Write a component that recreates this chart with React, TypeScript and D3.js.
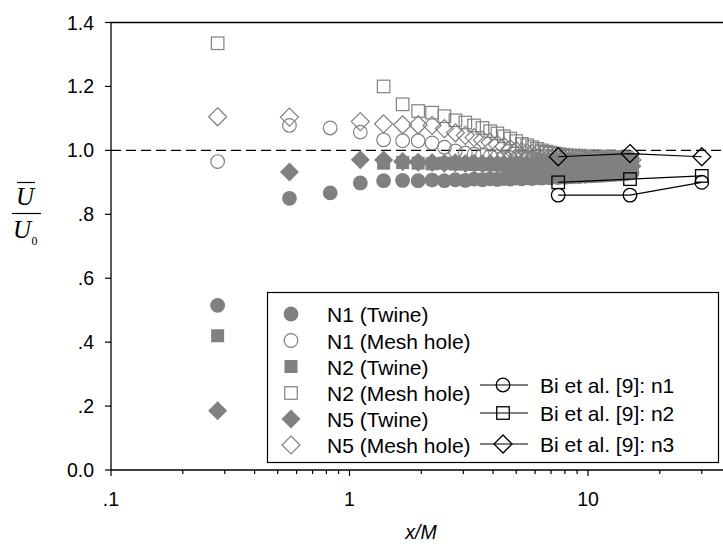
import React from "react";
import * as d3 from "d3";

// Measurement stations x/M
const stations = [
  0.28, 0.56, 0.83, 1.11, 1.39, 1.67, 1.94, 2.22, 2.5, 2.78, 3.06, 3.33, 3.61, 3.89, 4.17, 4.44, 4.72, 5.0,
  5.28, 5.56, 5.83, 6.11, 6.39, 6.67, 6.94, 7.22, 7.5, 7.78, 8.06, 8.33, 8.61, 8.89, 9.17, 9.44, 9.72, 10.0,
  10.28, 10.56, 10.83, 11.11, 11.39, 11.67, 11.94, 12.22, 12.5, 12.78, 13.06, 13.33, 13.61, 13.89, 14.17,
  14.44, 14.72, 15.0, 15.28,
];

const n1Twine = [
  0.515, 0.85, 0.867, 0.898, 0.905, 0.906, 0.905, 0.907, 0.905, 0.908, 0.906, 0.91, 0.908, 0.911, 0.909,
  0.912, 0.91, 0.913, 0.911, 0.914, 0.912, 0.915, 0.913, 0.916, 0.914, 0.917, 0.915, 0.918, 0.916, 0.919,
  0.917, 0.92, 0.918, 0.921, 0.919, 0.922, 0.92, 0.923, 0.921, 0.924, 0.922, 0.925, 0.923, 0.926, 0.924,
  0.927, 0.925, 0.928, 0.926, 0.929, 0.927, 0.93, 0.928, 0.931, 0.93,
];
const n1Mesh = [
  0.965, 1.078, 1.07, 1.057, 1.033, 1.03, 1.03, 1.023, 1.01, 0.998, 0.992, 0.988, 0.985, 0.982, 0.98, 0.978,
  0.977, 0.975, 0.975, 0.973, 0.972, 0.972, 0.97, 0.971, 0.969, 0.97, 0.968, 0.969, 0.967, 0.968, 0.967,
  0.966, 0.968, 0.966, 0.967, 0.965, 0.966, 0.965, 0.967, 0.965, 0.966, 0.964, 0.966, 0.965, 0.964, 0.966,
  0.965, 0.964, 0.965, 0.966, 0.964, 0.965, 0.966, 0.965, 0.964,
];
const n2Twine = [
  0.42, null, null, null, 0.96, 0.962, 0.96, 0.958, 0.96, 0.957, 0.958, 0.956, 0.957, 0.955, 0.956, 0.954,
  0.955, 0.953, 0.955, 0.953, 0.954, 0.952, 0.953, 0.951, 0.953, 0.952, 0.951, 0.953, 0.95, 0.952, 0.951,
  0.95, 0.952, 0.951, 0.95, 0.951, 0.949, 0.951, 0.95, 0.949, 0.951, 0.95, 0.949, 0.95, 0.951, 0.949, 0.95,
  0.949, 0.951, 0.95, 0.949, 0.95, 0.951, 0.95, 0.949,
];
const n2Mesh = [
  1.335, null, null, null, 1.2, 1.144, 1.123, 1.118, 1.107, 1.094, 1.087, 1.078, 1.07, 1.06, 1.053, 1.044,
  1.037, 1.029, 1.02, 1.016, 1.01, 1.005, 1.0, 0.996, 0.993, 0.99, 0.988, 0.986, 0.984, 0.982, 0.981, 0.98,
  0.979, 0.978, 0.977, 0.976, 0.976, 0.975, 0.975, 0.974, 0.974, 0.973, 0.973, 0.972, 0.972, 0.972, 0.971,
  0.971, 0.971, 0.97, 0.97, 0.97, 0.969, 0.969, 0.969,
];
const n5Twine = [
  0.185, 0.932, null, 0.971, 0.97, 0.965, 0.963, 0.962, 0.96, 0.961, 0.959, 0.96, 0.958, 0.959, 0.957, 0.958,
  0.956, 0.957, 0.956, 0.955, 0.956, 0.955, 0.954, 0.955, 0.954, 0.953, 0.954, 0.953, 0.952, 0.953, 0.952,
  0.953, 0.952, 0.951, 0.952, 0.951, 0.952, 0.951, 0.95, 0.951, 0.952, 0.951, 0.95, 0.951, 0.95, 0.951, 0.95,
  0.951, 0.95, 0.949, 0.95, 0.951, 0.95, 0.949, 0.95,
];
const n5Mesh = [
  1.105, 1.104, null, 1.09, 1.083, 1.08, 1.08, 1.078, 1.068, 1.055, 1.047, 1.04, 1.032, 1.025, 1.018, 1.012,
  1.005, 1.0, 0.996, 0.993, 0.99, 0.988, 0.986, 0.984, 0.983, 0.982, 0.981, 0.98, 0.979, 0.978, 0.978, 0.977,
  0.977, 0.976, 0.976, 0.975, 0.975, 0.975, 0.974, 0.974, 0.974, 0.973, 0.973, 0.973, 0.972, 0.972, 0.972,
  0.972, 0.971, 0.971, 0.971, 0.971, 0.97, 0.97, 0.97,
];

const biX = [7.5, 15, 30];
const biN1 = [0.86, 0.86, 0.9];
const biN2 = [0.9, 0.91, 0.92];
const biN3 = [0.98, 0.99, 0.98];

const seriesLabels = [
  "N1 (Twine)",
  "N1 (Mesh hole)",
  "N2 (Twine)",
  "N2 (Mesh hole)",
  "N5 (Twine)",
  "N5 (Mesh hole)",
];
const biLabels = ["Bi et al. [9]: n1", "Bi et al. [9]: n2", "Bi et al. [9]: n3"];

const yTicks = [0, 0.2, 0.4, 0.6, 0.8, 1.0, 1.2, 1.4];
const yTickLabels = ["0.0", ".2", ".4", ".6", ".8", "1.0", "1.2", "1.4"];
const xMajor = [0.1, 1, 10];
const xMajorLabels = [".1", "1", "10"];
const xMinor = [0.2, 0.3, 0.4, 0.5, 0.6, 0.7, 0.8, 0.9, 2, 3, 4, 5, 6, 7, 8, 9, 20, 30, 40];

const W = 723;
const H = 550;
const GREY = "#808080";
const FONT = "'Liberation Sans', Arial, sans-serif";

type Shape = "circle" | "square" | "diamond";

function Marker({ shape, x, y, filled, color, sw = 1.2 }: { shape: Shape; x: number; y: number; filled: boolean; color: string; sw?: number }) {
  const fill = filled ? color : "none";
  const stroke = filled ? "none" : color;
  if (shape === "circle") {
    return <circle cx={x} cy={y} r={filled ? 7.4 : 6.8} fill={fill} stroke={stroke} strokeWidth={sw} />;
  }
  if (shape === "square") {
    const s = filled ? 13 : 12.5;
    return <rect x={x - s / 2} y={y - s / 2} width={s} height={s} fill={fill} stroke={stroke} strokeWidth={sw} />;
  }
  const d = filled ? 9.5 : 9;
  return (
    <path
      d={`M${x},${y - d}L${x + d},${y}L${x},${y + d}L${x - d},${y}Z`}
      fill={fill}
      stroke={stroke}
      strokeWidth={sw}
    />
  );
}

export default function App() {
  const x = d3.scaleLog().domain([0.1, 40]).range([111, 111 + Math.log10(400) * 238.5]);
  const y = d3.scaleLinear().domain([0, 1.4]).range([470, 22.5]);

  const series: { vals: (number | null)[]; shape: Shape; filled: boolean }[] = [
    { vals: n1Twine, shape: "circle", filled: true },
    { vals: n1Mesh, shape: "circle", filled: false },
    { vals: n2Twine, shape: "square", filled: true },
    { vals: n2Mesh, shape: "square", filled: false },
    { vals: n5Twine, shape: "diamond", filled: true },
    { vals: n5Mesh, shape: "diamond", filled: false },
  ];

  const biSeries: { vals: number[]; shape: Shape }[] = [
    { vals: biN1, shape: "circle" },
    { vals: biN2, shape: "square" },
    { vals: biN3, shape: "diamond" },
  ];

  const line = d3
    .line<number>()
    .x((_, i) => x(biX[i]))
    .y((v) => y(v));

  const x0 = x(0.1);
  const yBase = y(0);
  const yTop = y(1.4);

  const legLeftY = [314, 340.5, 366.5, 393, 419, 445];
  const legBiY = [385, 413, 444];

  return (
    <svg width={W} height={H} style={{ position: "absolute", left: 0, top: 0, background: "#fff" }} fontFamily={FONT}>
      <rect x={0} y={0} width={W} height={H} fill="#fff" />
      {/* reference line */}
      <line x1={x0} x2={W} y1={y(1.0)} y2={y(1.0)} stroke="#000" strokeWidth={1.3} strokeDasharray="10,5" />

      {/* data series */}
      {series.map((s, si) => (
        <g key={si}>
          {s.vals.map((v, i) =>
            v == null ? null : (
              <Marker key={i} shape={s.shape} x={x(stations[i])} y={y(v)} filled={s.filled} color={GREY} />
            )
          )}
        </g>
      ))}

      {/* Bi et al. */}
      {biSeries.map((s, si) => (
        <g key={si}>
          <path d={line(s.vals) || ""} fill="none" stroke="#000" strokeWidth={1.2} />
          {s.vals.map((v, i) => (
            <Marker key={i} shape={s.shape} x={x(biX[i])} y={y(v)} filled={false} color="#000" sw={1.3} />
          ))}
        </g>
      ))}

      {/* axes */}
      <line x1={x0} x2={x0} y1={yTop} y2={yBase} stroke="#000" strokeWidth={1.3} />
      <line x1={x0} x2={W} y1={yBase} y2={yBase} stroke="#000" strokeWidth={1.3} />
      <line x1={x0} x2={W} y1={yTop} y2={yTop} stroke="#000" strokeWidth={1.3} />
      {yTicks.map((t, i) => (
        <g key={i}>
          <line x1={x0 - 6} x2={x0} y1={y(t)} y2={y(t)} stroke="#000" strokeWidth={1.2} />
          <text x={94} y={y(t) + 7} textAnchor="end" fontSize={19.5}>
            {yTickLabels[i]}
          </text>
        </g>
      ))}
      {xMajor.map((t, i) => (
        <g key={i}>
          <line x1={x(t)} x2={x(t)} y1={yBase} y2={yBase + 6} stroke="#000" strokeWidth={1.2} />
          <text x={x(t)} y={506} textAnchor="middle" fontSize={19.5}>
            {xMajorLabels[i]}
          </text>
        </g>
      ))}
      {xMinor.map((t, i) => (
        <line key={i} x1={x(t)} x2={x(t)} y1={yBase} y2={yBase + 4} stroke="#000" strokeWidth={1.2} />
      ))}

      {/* axis titles */}
      <text x={421} y={539} textAnchor="middle" fontSize={19.5} fontStyle="italic">
        x/M
      </text>
      <g fontFamily="'Liberation Serif', 'Times New Roman', serif">
        <line x1={17} x2={35} y1={182.5} y2={182.5} stroke="#000" strokeWidth={1.2} />
        <text x={25} y={205} textAnchor="middle" fontSize={25} fontStyle="italic">
          U
        </text>
        <line x1={12} x2={41} y1={213.5} y2={213.5} stroke="#000" strokeWidth={1.2} />
        <text x={22} y={238} textAnchor="middle" fontSize={25} fontStyle="italic">
          U
        </text>
        <text x={34.5} y={245} textAnchor="middle" fontSize={12}>
          0
        </text>
      </g>

      {/* legend */}
      <rect x={267.5} y={292.5} width={451} height={170} fill="#fff" stroke="#000" strokeWidth={1.2} />
      {seriesLabels.map((lab, i) => (
        <g key={i}>
          <Marker
            shape={series[i].shape}
            x={291}
            y={legLeftY[i]}
            filled={series[i].filled}
            color={GREY}
          />
          <text x={327} y={legLeftY[i] + 8} fontSize={21}>
            {lab}
          </text>
        </g>
      ))}
      {biLabels.map((lab, i) => (
        <g key={i}>
          <line x1={480} x2={528} y1={legBiY[i]} y2={legBiY[i]} stroke="#000" strokeWidth={1.2} />
          <Marker shape={biSeries[i].shape} x={503} y={legBiY[i]} filled={false} color="#000" sw={1.3} />
          <text x={540} y={legBiY[i] + 8} fontSize={21}>
            {lab}
          </text>
        </g>
      ))}
    </svg>
  );
}
